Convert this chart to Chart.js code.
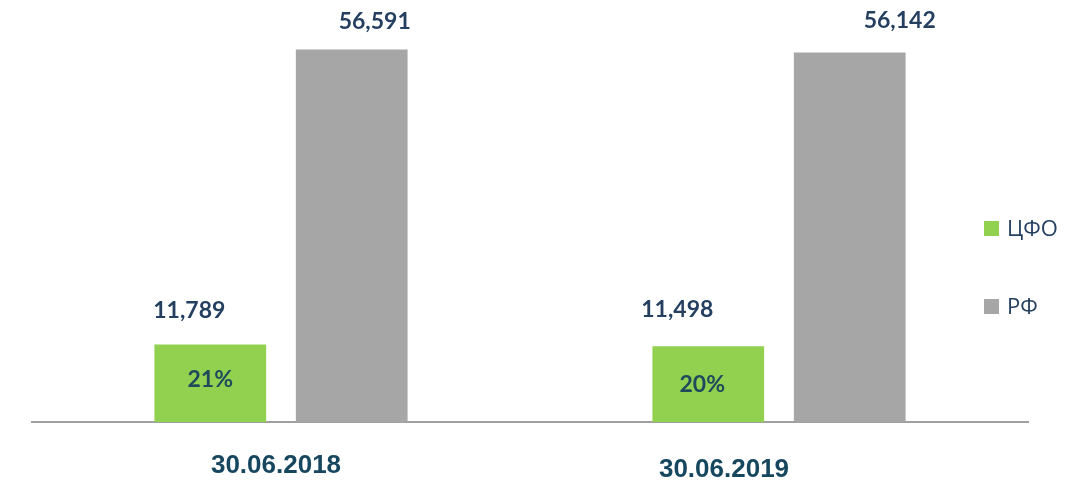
<!DOCTYPE html>
<html>
<head>
<meta charset="utf-8">
<script src="https://cdn.jsdelivr.net/npm/chart.js@4.4.1/dist/chart.umd.min.js"></script>
<style>
    html, body { margin: 0; padding: 0; background: #ffffff; }
</style>
</head>
<body>
<canvas id="chart" width="1089" height="485"></canvas>
<script>
// Chart data
const categories = ['30.06.2018', '30.06.2019'];
const seriesNames = ['ЦФО', 'РФ'];
const cfoValues = [11789, 11498];
const rfValues = [56591, 56142];
const cfoShareLabels = ['21%', '20%'];

const GREEN = '#92d050';
const GREY = '#a6a6a6';
const NAVY = '#243f60';
const TEAL = '#17475f';

// Value labels above bars (hand placed in the original, so per-point shifts)
const valueLabels = {
    id: 'valueLabels',
    afterDatasetsDraw(chart, args, opts) {
        const ctx = chart.ctx;
        ctx.save();
        ctx.font = opts.font;
        ctx.fillStyle = opts.color;
        ctx.textAlign = 'center';
        ctx.textBaseline = 'middle';
        chart.data.datasets.forEach((ds, d) => {
            chart.getDatasetMeta(d).data.forEach((bar, i) => {
                const text = ds.data[i].toLocaleString('en-US');
                ctx.fillText(text, bar.x + opts.shiftX[d][i], bar.y - opts.shiftY[d][i]);
            });
        });
        ctx.restore();
    }
};

// Share of ЦФО written inside the green bars
const shareLabels = {
    id: 'shareLabels',
    afterDatasetsDraw(chart, args, opts) {
        const ctx = chart.ctx;
        ctx.save();
        ctx.font = opts.font;
        ctx.fillStyle = opts.color;
        ctx.textAlign = 'center';
        ctx.textBaseline = 'middle';
        chart.getDatasetMeta(0).data.forEach((bar, i) => {
            const y = (bar.y + bar.base) / 2;
            ctx.fillText(cfoShareLabels[i], bar.x + opts.shiftX[i], y + opts.shiftY[i]);
        });
        ctx.restore();
    }
};

// Category labels under the axis
const categoryLabels = {
    id: 'categoryLabels',
    afterDraw(chart, args, opts) {
        const ctx = chart.ctx;
        const xScale = chart.scales.x;
        ctx.save();
        ctx.font = opts.font;
        ctx.fillStyle = opts.color;
        ctx.textAlign = 'center';
        ctx.textBaseline = 'middle';
        categories.forEach((label, i) => {
            const x = xScale.getPixelForValue(i) + opts.shiftX[i];
            const y = chart.chartArea.bottom + opts.shiftY[i];
            ctx.fillText(label, x, y);
        });
        ctx.restore();
    }
};

// Legend on the right side
const sideLegend = {
    id: 'sideLegend',
    afterDraw(chart, args, opts) {
        const ctx = chart.ctx;
        ctx.save();
        ctx.font = opts.font;
        ctx.textAlign = 'left';
        ctx.textBaseline = 'middle';
        chart.data.datasets.forEach((ds, i) => {
            const cy = opts.y + i * opts.step;
            ctx.fillStyle = ds.backgroundColor;
            ctx.fillRect(opts.x, cy - opts.box / 2, opts.box, opts.box);
            ctx.fillStyle = opts.color;
            ctx.fillText(ds.label, opts.x + opts.box + 8, cy + 1);
        });
        ctx.restore();
    }
};

const ctx = document.getElementById('chart').getContext('2d');
new Chart(ctx, {
    type: 'bar',
    data: {
        labels: categories,
        datasets: [
            {
                label: seriesNames[0],
                data: cfoValues,
                backgroundColor: GREEN,
                borderWidth: 0,
                barPercentage: 0.79,
                categoryPercentage: 0.568
            },
            {
                label: seriesNames[1],
                data: rfValues,
                backgroundColor: GREY,
                borderWidth: 0,
                barPercentage: 0.79,
                categoryPercentage: 0.568
            }
        ]
    },
    options: {
        responsive: false,
        animation: false,
        events: [],
        layout: {
            padding: { left: 32, right: 61, top: 27, bottom: 63 }
        },
        scales: {
            x: {
                grid: { display: false, drawTicks: false },
                ticks: { display: false },
                border: { display: true, color: '#a0a0a0', width: 2 }
            },
            y: {
                display: false,
                min: 0,
                max: 60000
            }
        },
        plugins: {
            legend: { display: false },
            tooltip: { enabled: false },
            valueLabels: {
                font: 'bold 23px Lato, "Open Sans", sans-serif',
                color: NAVY,
                shiftX: [[-21, -31], [23, 50]],
                shiftY: [[34, 37], [28, 32]]
            },
            shareLabels: {
                font: 'bold 23px Lato, "Open Sans", sans-serif',
                color: '#1e4a5c',
                shiftX: [0, -6],
                shiftY: [-4, 0]
            },
            categoryLabels: {
                font: 'bold 26px "Liberation Sans", Arial, sans-serif',
                color: TEAL,
                shiftX: [-5, -55],
                shiftY: [44, 48]
            },
            sideLegend: {
                font: '22px "Open Sans", sans-serif',
                color: NAVY,
                x: 984,
                y: 228.5,
                step: 78,
                box: 15
            }
        }
    },
    plugins: [valueLabels, shareLabels, categoryLabels, sideLegend]
});
</script>
</body>
</html>
